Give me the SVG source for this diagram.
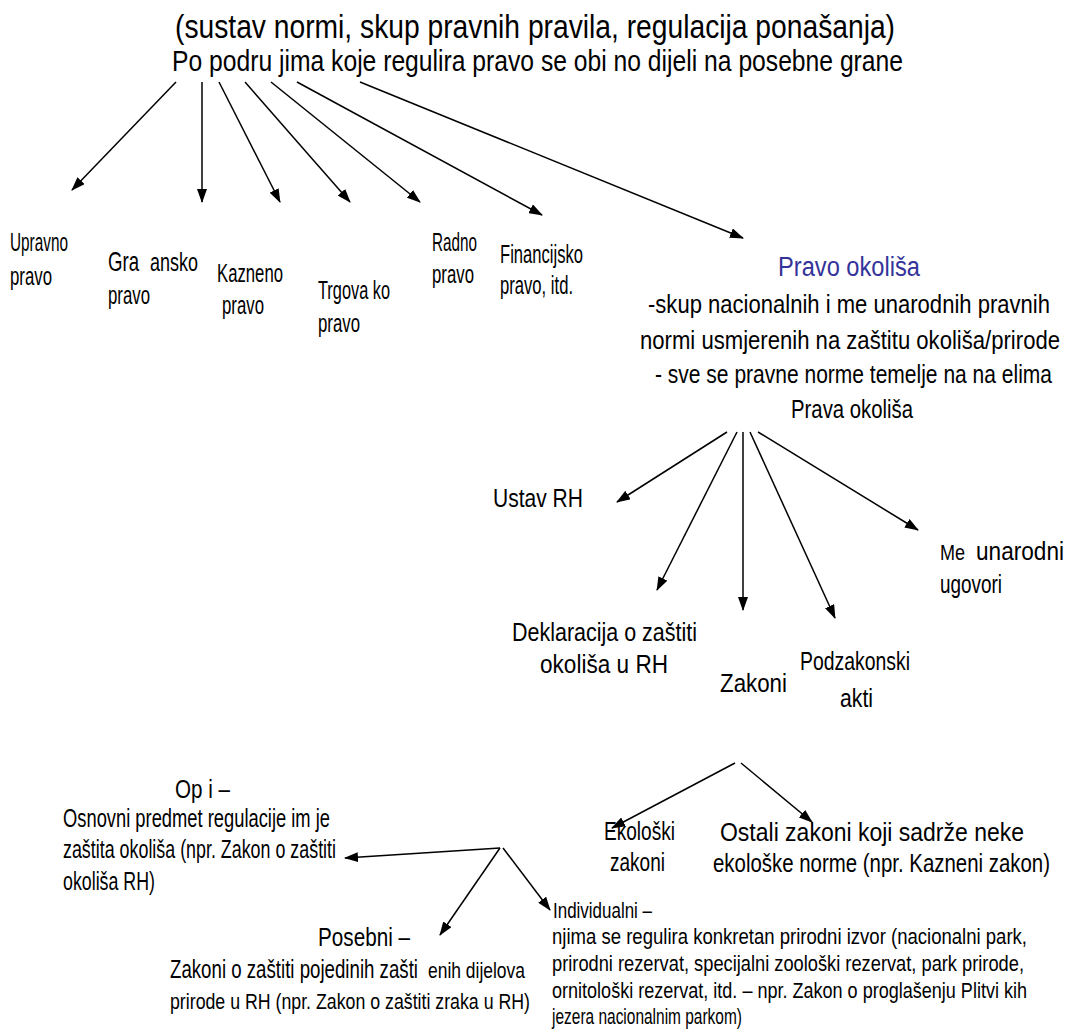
<svg xmlns="http://www.w3.org/2000/svg" width="1072" height="1036" viewBox="0 0 1072 1036" xml:space="preserve">
<style>
text{font-family:"Liberation Sans",Arial,sans-serif;fill:#000}
.t1{font-size:34px}
.t2{font-size:29px}
.m{font-size:26px}
.s{font-size:22px}
.blue{fill:#333399;font-size:27px}
.c line{stroke:#000;stroke-width:1.5;marker-end:url(#ah)}
</style>
<defs>
<marker id="ah" viewBox="0 0 14 10" refX="13" refY="5" markerWidth="14" markerHeight="10" markerUnits="userSpaceOnUse" orient="auto">
<path d="M0,0 L14,5 L0,10 z" fill="#000"/>
</marker>
</defs>
<rect width="1072" height="1036" fill="#fff"/>
<g id="root">
<text class="t1" x="175" y="38" textLength="720" lengthAdjust="spacingAndGlyphs">(sustav normi, skup pravnih pravila, regulacija ponašanja)</text>
<text class="t2" x="172" y="71" textLength="731" lengthAdjust="spacingAndGlyphs">Po podru  jima koje regulira pravo se obi  no dijeli na posebne grane</text>
</g>
<g id="upravno"><text class="m" x="10" y="251" textLength="58" lengthAdjust="spacingAndGlyphs">Upravno</text><text class="m" x="10" y="285" textLength="42" lengthAdjust="spacingAndGlyphs">pravo</text></g>
<g id="gradjansko"><text x="108" y="271" textLength="31" lengthAdjust="spacingAndGlyphs" style="font-size:28px">Gra</text><text class="m" x="150" y="271" textLength="48" lengthAdjust="spacingAndGlyphs">ansko</text><text class="m" x="108" y="304" textLength="42" lengthAdjust="spacingAndGlyphs">pravo</text></g>
<g id="kazneno"><text class="m" x="217" y="282" textLength="66" lengthAdjust="spacingAndGlyphs">Kazneno</text><text class="m" x="222" y="314" textLength="42" lengthAdjust="spacingAndGlyphs">pravo</text></g>
<g id="trgovacko"><text class="m" x="318" y="299" textLength="72" lengthAdjust="spacingAndGlyphs">Trgova  ko</text><text class="m" x="318" y="332" textLength="42" lengthAdjust="spacingAndGlyphs">pravo</text></g>
<g id="radno"><text class="m" x="432" y="251" textLength="45" lengthAdjust="spacingAndGlyphs">Radno</text><text class="m" x="432" y="283" textLength="42" lengthAdjust="spacingAndGlyphs">pravo</text></g>
<g id="financijsko"><text class="m" x="500" y="263" textLength="83" lengthAdjust="spacingAndGlyphs">Financijsko</text><text class="m" x="500" y="294" textLength="73" lengthAdjust="spacingAndGlyphs">pravo, itd.</text></g>
<g id="okolis">
<text class="blue" x="778" y="276" textLength="142" lengthAdjust="spacingAndGlyphs">Pravo okoliša</text>
<text class="m" x="648" y="313" textLength="402" lengthAdjust="spacingAndGlyphs">-skup nacionalnih i me  unarodnih pravnih</text>
<text class="m" x="640" y="349" textLength="420" lengthAdjust="spacingAndGlyphs">normi usmjerenih na zaštitu okoliša/prirode</text>
<text class="m" x="655" y="383" textLength="397" lengthAdjust="spacingAndGlyphs">- sve se pravne norme temelje na na  elima</text>
<text class="m" x="791" y="418" textLength="122" lengthAdjust="spacingAndGlyphs">Prava okoliša</text>
</g>
<g id="ustav"><text class="m" x="493" y="507" textLength="90" lengthAdjust="spacingAndGlyphs">Ustav RH</text></g>
<g id="medjunarodni"><text class="s" x="940" y="560" textLength="25" lengthAdjust="spacingAndGlyphs">Me</text><text class="m" x="976" y="560" textLength="88" lengthAdjust="spacingAndGlyphs">unarodni</text><text class="m" x="940" y="593" textLength="62" lengthAdjust="spacingAndGlyphs">ugovori</text></g>
<g id="deklaracija"><text class="m" x="512" y="641" textLength="185" lengthAdjust="spacingAndGlyphs">Deklaracija o zaštiti</text><text class="m" x="540" y="673" textLength="128" lengthAdjust="spacingAndGlyphs">okoliša u RH</text></g>
<g id="zakoni"><text class="m" x="720" y="692" textLength="67" lengthAdjust="spacingAndGlyphs">Zakoni</text></g>
<g id="podzakonski"><text class="m" x="800" y="670" textLength="110" lengthAdjust="spacingAndGlyphs">Podzakonski</text><text class="m" x="840" y="707" textLength="33" lengthAdjust="spacingAndGlyphs">akti</text></g>
<g id="opci">
<text class="m" x="175" y="798" textLength="55" lengthAdjust="spacingAndGlyphs">Op  i –</text>
<text class="m" x="63" y="827" textLength="267" lengthAdjust="spacingAndGlyphs">Osnovni predmet regulacije im je</text>
<text class="m" x="63" y="858" textLength="273" lengthAdjust="spacingAndGlyphs">zaštita okoliša (npr. Zakon o zaštiti</text>
<text class="m" x="63" y="890" textLength="92" lengthAdjust="spacingAndGlyphs">okoliša RH)</text>
</g>
<g id="ekoloski"><text class="m" x="604" y="840" textLength="71" lengthAdjust="spacingAndGlyphs">Ekološki</text><text class="m" x="610" y="871" textLength="55" lengthAdjust="spacingAndGlyphs">zakoni</text></g>
<g id="ostali"><text class="m" x="720" y="841" textLength="304" lengthAdjust="spacingAndGlyphs">Ostali zakoni koji sadrže neke</text><text class="m" x="713" y="872" textLength="337" lengthAdjust="spacingAndGlyphs">ekološke norme (npr. Kazneni zakon)</text></g>
<g id="individualni">
<text class="s" x="553" y="918" textLength="99" lengthAdjust="spacingAndGlyphs">Individualni –</text>
<text class="s" x="552" y="944" textLength="475" lengthAdjust="spacingAndGlyphs">njima se regulira konkretan prirodni izvor (nacionalni park,</text>
<text class="s" x="552" y="971" textLength="472" lengthAdjust="spacingAndGlyphs">prirodni rezervat, specijalni zoološki rezervat, park prirode,</text>
<text class="s" x="552" y="998" textLength="475" lengthAdjust="spacingAndGlyphs">ornitološki rezervat, itd. – npr. Zakon o proglašenju Plitvi  kih</text>
<text class="s" x="552" y="1024" textLength="190" lengthAdjust="spacingAndGlyphs">jezera nacionalnim parkom)</text>
</g>
<g id="posebni">
<text class="m" x="318" y="946" textLength="92" lengthAdjust="spacingAndGlyphs">Posebni –</text>
<text class="m" x="170" y="978" textLength="248" lengthAdjust="spacingAndGlyphs">Zakoni o zaštiti pojedinih zašti</text><text class="s" x="428" y="978" textLength="97" lengthAdjust="spacingAndGlyphs">enih dijelova</text>
<text class="s" x="170" y="1009" textLength="360" lengthAdjust="spacingAndGlyphs">prirode u RH (npr. Zakon o zaštiti zraka u RH)</text>
</g>
<g id="connectors" class="c">
<line x1="176" y1="82" x2="72" y2="190"/>
<line x1="202" y1="82" x2="202" y2="202"/>
<line x1="219" y1="82" x2="280" y2="202"/>
<line x1="245" y1="82" x2="350" y2="202"/>
<line x1="271" y1="82" x2="420" y2="202"/>
<line x1="297" y1="82" x2="542" y2="215"/>
<line x1="360" y1="82" x2="743" y2="238"/>
<line x1="727" y1="432" x2="617" y2="502"/>
<line x1="737" y1="432" x2="657" y2="590"/>
<line x1="743" y1="432" x2="743" y2="610"/>
<line x1="750" y1="432" x2="835" y2="618"/>
<line x1="758" y1="432" x2="918" y2="530"/>
<line x1="735" y1="763" x2="612" y2="828"/>
<line x1="741" y1="763" x2="812" y2="822"/>
<line x1="500" y1="848" x2="345" y2="858"/>
<line x1="500" y1="848" x2="440" y2="935"/>
<line x1="503" y1="848" x2="550" y2="910"/>
</g>
</svg>
